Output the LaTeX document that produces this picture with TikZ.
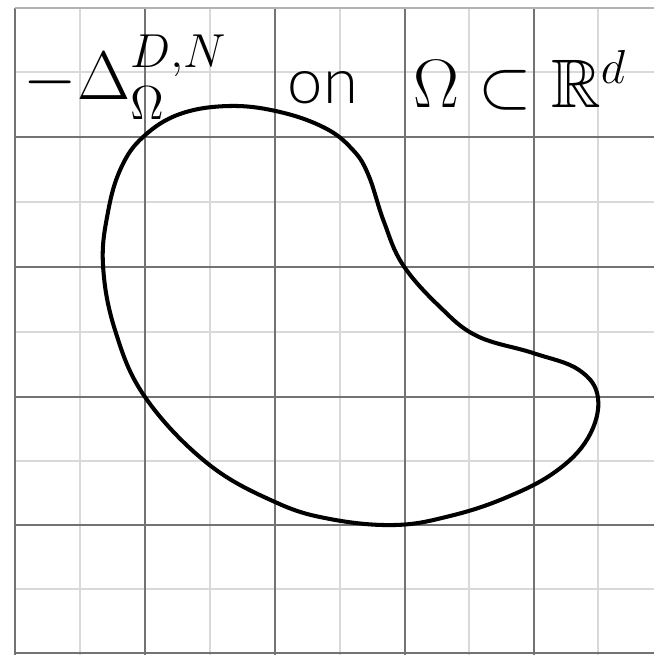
\documentclass[tikz,border=0pt]{standalone}
\usepackage{amsmath,amssymb}
\usepackage{fontspec}
\IfFontExistsTF{Lato Light}{\newfontfamily\onfont{Lato Light}}{\newfontfamily\onfont{Liberation Sans}}
\begin{document}
\begin{tikzpicture}[x=0.01cm,y=-0.01cm,
  majorline/.style={draw=black!55, line width=0.8pt},
  minorline/.style={draw=black!15, line width=0.8pt},
  boundary/.style={draw=black, line width=1.15pt},
  lbl/.style={anchor=base west, inner sep=0pt, font=\fontsize{17.28}{20}\selectfont, scale=1.13, transform shape},
  onlbl/.style={anchor=base west, inner sep=0pt, font=\fontsize{18}{20}\selectfont}]
\useasboundingbox (0,0) rectangle (654,655);
% minor grid
\foreach \x in {80,210,340,469,598} \draw[minorline] (\x,8) -- (\x,655);
\foreach \y in {72,202,332,461,589} \draw[minorline] (15,\y) -- (654,\y);
% major grid
\foreach \x in {15,145,275,405,534} \draw[majorline] (\x,8) -- (\x,655);
\foreach \y in {137,267,397,525,653} \draw[majorline] (15,\y) -- (654,\y);
\draw[draw=black!30, line width=0.8pt] (15,8) -- (654,8);
% domain boundary
\draw[boundary] plot[smooth cycle, tension=0.65] coordinates {
 (143,137) (180,114) (230,106) (280,112) (325,128) (352,149) (368,174)
 (384,222) (403,265) (440,307) (477,336) (533,353) (579,370) (598,398)
 (588,438) (555,472) (505,498) (450,516) (395,525) (330,519) (275,502)
 (207,463) (145,397) (115,330) (103,265) (108,212) (121,168)};
% labels
\node[lbl] (op) at (23,100) {$-\Delta_\Omega^{D,N}$};
\node[onlbl] (on) at (287,104) {\onfont on};
\node[lbl] (dom) at (413,108) {$\Omega\subset\mathbb{R}^d$};
\end{tikzpicture}
\end{document}
